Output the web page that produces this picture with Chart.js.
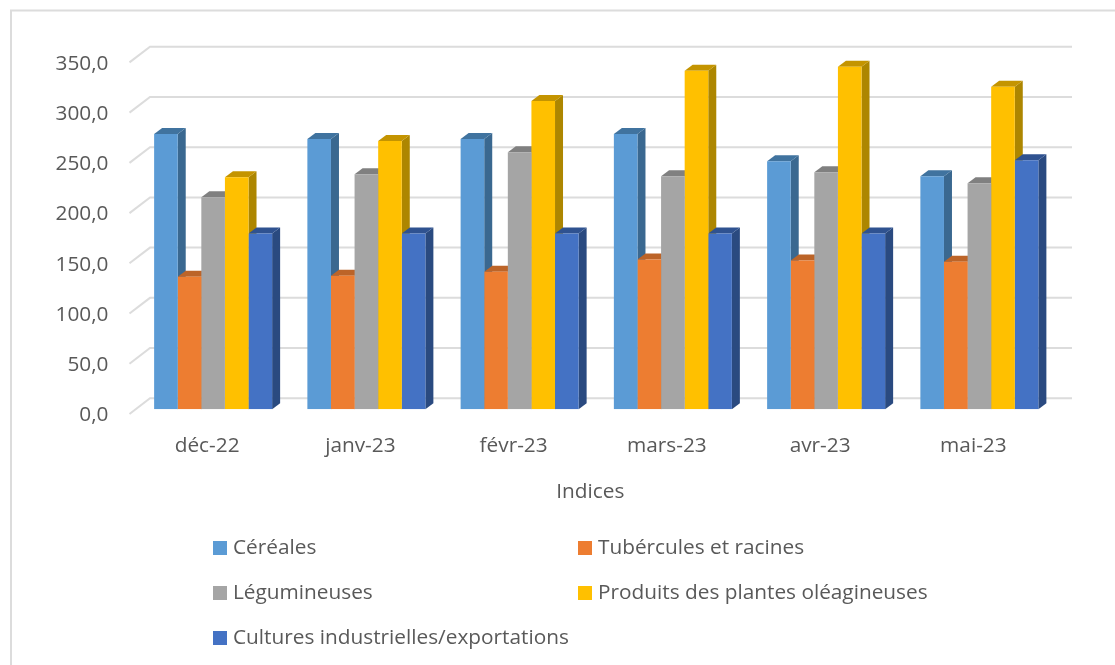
<!DOCTYPE html>
<html lang="fr">
<head>
<meta charset="utf-8">
<style>html,body{margin:0;padding:0;background:#fff;overflow:hidden}#w{width:1115px;height:665px;position:relative}</style>
<script src="https://cdn.jsdelivr.net/npm/chart.js@4"></script>
</head>
<body>
<div id="w"><canvas id="c" width="1115" height="665"></canvas></div>
<script>
const categories = ['déc-22','janv-23','févr-23','mars-23','avr-23','mai-23'];
const cereales = [274,269,269,274,247,232];
const tubercules = [132,133,137,149,148,147];
const legumineuses = [211,234,256,232,236,225];
const oleagineuses = [231,267,307,337,341,321];
const cultures = [175,175,175,175,175,248];
const seriesNames = ['Céréales','Tubércules et racines','Légumineuses','Produits des plantes oléagineuses','Cultures industrielles/exportations'];
const frontColors = ['#5B9BD5','#ED7D31','#A5A5A5','#FFC000','#4472C4'];
const sideColors = ['#3A6890','#A85820','#757575','#AD8600','#2A4A80'];
const topColors = ['#40739F','#BC6428','#808080','#C49400','#2F5290'];
const allValues = [cereales,tubercules,legumineuses,oleagineuses,cultures];
const FONT = '"Open Sans"';
const FS = 20.8;
const TXT = '#595959';
const GRID = '#dcdcdc';
const DX = 8, DY = 6, SHIFT = 6;

const look3d = {
  id:'look3d',
  beforeDraw(chart){
    const c = chart.ctx;
    c.save();
    c.fillStyle='#fff'; c.fillRect(0,0,1115,665);
    c.strokeStyle=GRID; c.lineWidth=2;
    c.beginPath();
    c.moveTo(11,665);c.lineTo(11,10.5);c.lineTo(1115,10.5);
    c.stroke();
    c.restore();
  },
  beforeDatasetsDraw(chart){
    const c = chart.ctx, y = chart.scales.y;
    c.save();
    c.strokeStyle=GRID; c.lineWidth=2;
    y.ticks.forEach(t=>{
      const p = y.getPixelForValue(t.value);
      c.beginPath();
      c.moveTo(129.5,p+4.7);
      c.lineTo(150,p-11);
      c.lineTo(1072,p-11);
      c.stroke();
    });
    c.restore();
    c.save();
    c.translate(SHIFT,0);
    const base = y.getPixelForValue(0);
    chart.data.datasets.forEach((d,i)=>{
      chart.getDatasetMeta(i).data.forEach(b=>{
        const l=b.x-b.width/2, r=b.x+b.width/2, t=b.y;
        c.fillStyle=sideColors[i];
        c.beginPath();c.moveTo(r,t);c.lineTo(r+DX,t-DY);c.lineTo(r+DX,base-DY);c.lineTo(r,base);c.closePath();c.fill();
        c.fillStyle=topColors[i];
        c.beginPath();c.moveTo(l,t);c.lineTo(l+DX,t-DY);c.lineTo(r+DX,t-DY);c.lineTo(r,t);c.closePath();c.fill();
      });
    });
  },
  afterDatasetsDraw(chart){
    chart.ctx.restore();
  },
  afterDraw(chart){
    const c = chart.ctx;
    const spots = [[213,541],[578,541],[213,586],[578,586],[213,631]];
    c.save();
    c.font=FS+'px '+FONT; c.textBaseline='middle'; c.textAlign='left';
    seriesNames.forEach((n,i)=>{
      const [x,y]=spots[i];
      c.fillStyle=frontColors[i]; c.fillRect(x,y,14,14);
      c.fillStyle=TXT; c.fillText(n,x+20,y+7.5);
    });
    c.restore();
  }
};

new Chart(document.getElementById('c'),{
  type:'bar',
  data:{labels:categories,datasets:allValues.map((v,i)=>({
    label:seriesNames[i],data:v,backgroundColor:frontColors[i],borderWidth:0,
    categoryPercentage:0.77,barPercentage:1
  }))},
  plugins:[look3d],
  options:{
    responsive:false,animation:false,
    layout:{padding:{top:57.7,left:0,right:65,bottom:0}},
    plugins:{legend:{display:false},tooltip:{enabled:false}},
    scales:{
      x:{
        grid:{display:false},border:{display:false},
        afterFit(s){s.height=255.7;},
        ticks:{color:TXT,font:{family:FONT,size:FS},padding:16,maxRotation:0},
        title:{display:true,text:'Indices',color:TXT,font:{family:FONT,size:FS},padding:{top:0,bottom:160}}
      },
      y:{
        min:0,max:350,
        grid:{display:false},border:{display:false},
        afterFit(s){s.width=130.5;},
        ticks:{stepSize:50,color:TXT,font:{family:FONT,size:FS},padding:14,labelOffset:6,
          callback:v=>v.toFixed(1).replace('.',',')}
      }
    }
  }
});
</script>
</body>
</html>
